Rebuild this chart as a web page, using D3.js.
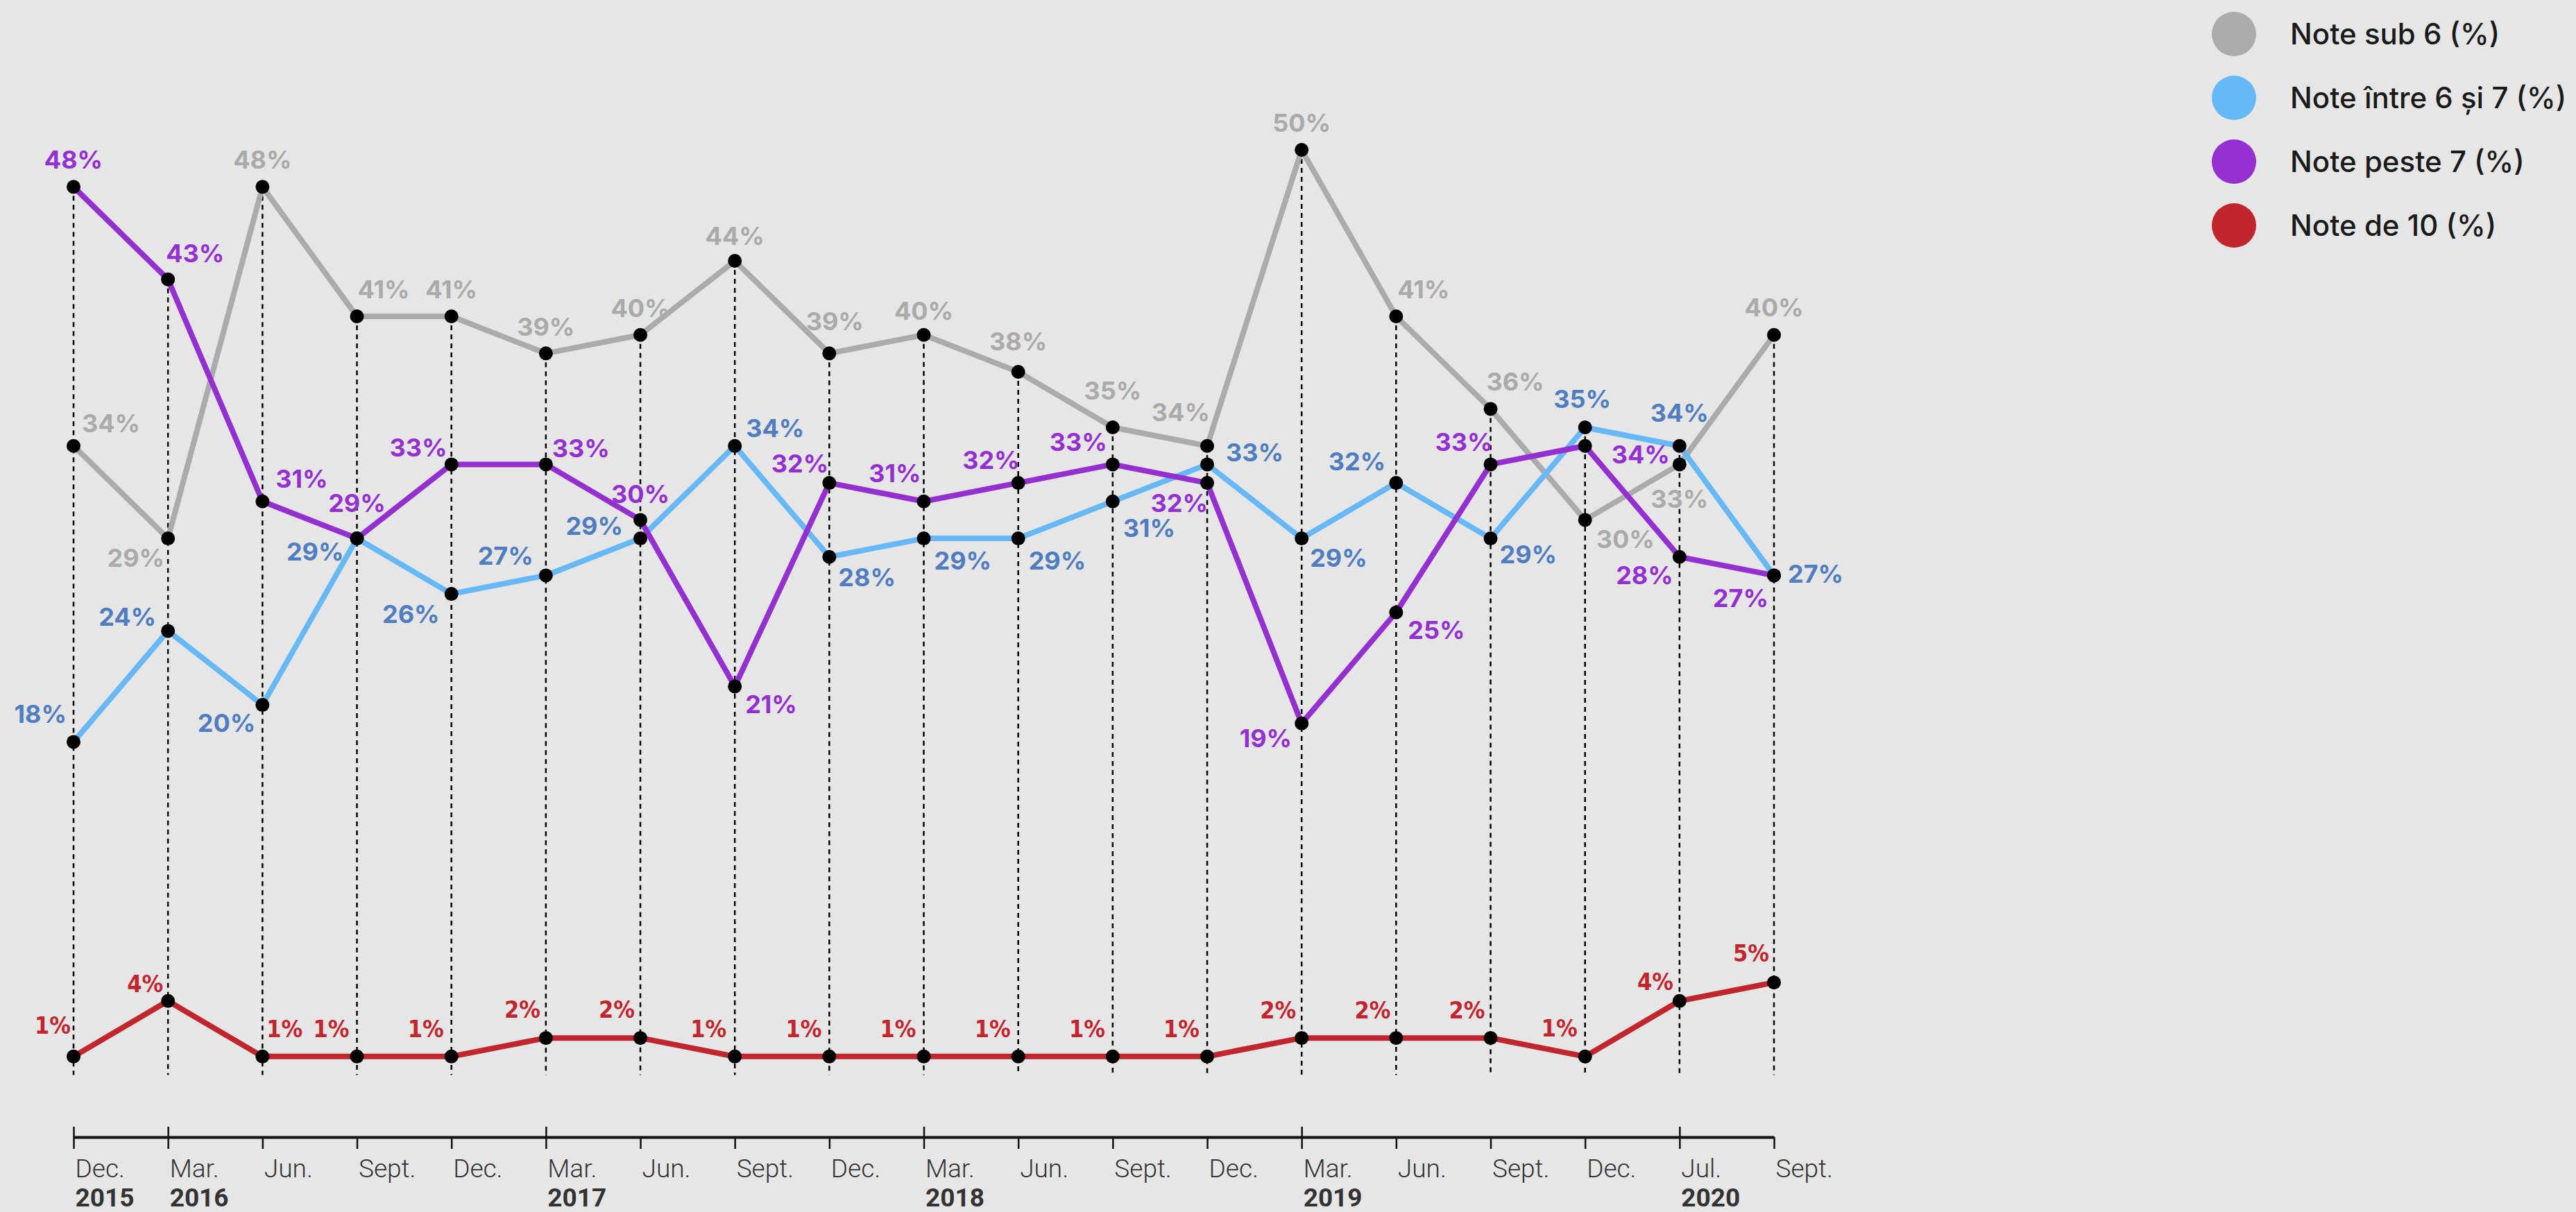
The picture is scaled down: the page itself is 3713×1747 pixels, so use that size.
<!DOCTYPE html>
<html>
<head>
<meta charset="utf-8">
<script src="https://cdn.jsdelivr.net/npm/d3@7"></script>
<style>
  body { margin: 0; background: #e6e6e6; }
  svg { display: block; }
</style>
</head>
<body>
<div id="chart"></div>
<script>
// --- data ---
const months = ["Dec.","Mar.","Jun.","Sept.","Dec.","Mar.","Jun.","Sept.","Dec.","Mar.","Jun.","Sept.","Dec.","Mar.","Jun.","Sept.","Dec.","Jul.","Sept."];
const years  = ["2015","2016","","","","2017","","","","2018","","","","2019","","","","2020",""];

const sub6    = [34, 29, 48, 41, 41, 39, 40, 44, 39, 40, 38, 35, 34, 50, 41, 36, 30, 33, 40];
const intre67 = [18, 24, 20, 29, 26, 27, 29, 34, 28, 29, 29, 31, 33, 29, 32, 29, 35, 34, 27];
const peste7  = [48, 43, 31, 29, 33, 33, 30, 21, 32, 31, 32, 33, 32, 19, 25, 33, 34, 28, 27];
const note10  = [1, 4, 1, 1, 1, 2, 2, 1, 1, 1, 1, 1, 1, 2, 2, 2, 1, 4, 5];

const seriesNames = ["Note sub 6 (%)", "Note între 6 și 7 (%)", "Note peste 7 (%)", "Note de 10 (%)"];

// label placement per point: [dx, dy, anchor]  (s=start, m=middle, e=end)
const sub6Lab = [[12,-20,"s"],[-5,41,"e"],[0,-26,"m"],[1,-26,"s"],[0,-26,"m"],[0,-25,"m"],[0,-26,"m"],[0,-23,"m"],[8,-33,"m"],[0,-22,"m"],[0,-31,"m"],[0,-40,"m"],[4,-36,"e"],[0,-26,"m"],[2,-26,"s"],[-6,-26,"s"],[16,41,"s"],[0,63,"m"],[0,-27,"m"]];
const intreLab = [[-10,-27,"e"],[-17,-7,"e"],[-10,39,"e"],[-19,32,"e"],[-17,42,"e"],[-18,-15,"e"],[-25,-5,"e"],[16,-13,"s"],[13,42,"s"],[15,45,"s"],[15,45,"s"],[15,51,"s"],[27,-4,"s"],[12,41,"s"],[-15,-18,"e"],[13,36,"s"],[-4,-28,"m"],[0,-35,"m"],[20,11,"s"]];
const pesteLab = [[0,-26,"m"],[-3,-25,"s"],[19,-20,"s"],[0,-38,"m"],[-6,-11,"e"],[9,-10,"s"],[0,-24,"m"],[15,39,"s"],[-1,-15,"e"],[-4,-28,"e"],[2,-20,"e"],[-8,-19,"e"],[1,42,"e"],[-14,34,"e"],[17,38,"s"],[3,-19,"e"],[38,25,"s"],[-9,39,"e"],[-8,46,"e"]];
const note10Lab = [[-4,-33,"e"],[-7,-13,"e"],[6,-28,"s"],[-11,-28,"e"],[-11,-28,"e"],[-8,-29,"e"],[-8,-29,"e"],[-12,-28,"e"],[-11,-28,"e"],[-11,-28,"e"],[-11,-28,"e"],[-11,-28,"e"],[-11,-28,"e"],[-8,-28,"e"],[-8,-28,"e"],[-8,-28,"e"],[-11,-29,"e"],[-9,-16,"e"],[-7,-30,"e"]];

const series = [
  {name: seriesNames[0], values: sub6,    lab: sub6Lab,   line: "#ababab", text: "#aaaaaa", narrow: false},
  {name: seriesNames[1], values: intre67, lab: intreLab,  line: "#67b8f6", text: "#4f7dbf", narrow: false},
  {name: seriesNames[2], values: peste7,  lab: pesteLab,  line: "#9430d0", text: "#9430d0", narrow: false},
  {name: seriesNames[3], values: note10,  lab: note10Lab, line: "#c1262f", text: "#c1262f", narrow: true}
];

const width = 3713, height = 1747;
const svg = d3.select("#chart").append("svg")
    .attr("width", width)
    .attr("height", height)
    .style("background", "#e6e6e6");

const x = d3.scalePoint()
    .domain(d3.range(months.length))
    .range([106, 2557]);

const y = d3.scaleLinear()
    .domain([0, 50])
    .range([1549.5, 216]);

const axisY = 1639;

// dashed drop lines from highest point down to zero
svg.append("g")
  .selectAll("line")
  .data(d3.range(months.length))
  .join("line")
    .attr("x1", i => x(i))
    .attr("x2", i => x(i))
    .attr("y1", i => y(d3.max(series, s => s.values[i])))
    .attr("y2", y(0))
    .attr("stroke", "#000")
    .attr("stroke-width", 2.5)
    .attr("stroke-dasharray", "7,6");

// x axis
const xAxis = d3.axisBottom(x)
    .tickSize(17)
    .tickSizeOuter(0)
    .tickFormat(i => months[i]);

const axisG = svg.append("g")
    .attr("transform", `translate(0,${axisY})`)
    .call(xAxis);

axisG.select(".domain").attr("stroke", "#111").attr("stroke-width", 4);
axisG.selectAll(".tick line").attr("stroke", "#111").attr("stroke-width", 2.5);
axisG.selectAll(".tick")
  .filter(i => years[i] !== "")
  .append("line")
    .attr("y1", -15).attr("y2", 0)
    .attr("stroke", "#111").attr("stroke-width", 2.5);

axisG.selectAll(".tick text")
    .attr("y", 58)
    .attr("dy", null)
    .attr("x", 2)
    .attr("text-anchor", "start")
    .attr("fill", "#333")
    .style("font-family", "Roboto")
    .style("font-weight", 300)
    .style("font-size", "37px");

axisG.selectAll(".tick")
  .append("text")
    .attr("x", 2)
    .attr("y", 100)
    .attr("text-anchor", "start")
    .attr("fill", "#333")
    .style("font-family", "Roboto")
    .style("font-weight", 700)
    .style("font-size", "37px")
    .text(i => years[i]);

// lines
const line = d3.line()
    .x((d, i) => x(i))
    .y(d => y(d));

svg.append("g")
  .selectAll("path")
  .data(series)
  .join("path")
    .attr("d", s => line(s.values))
    .attr("fill", "none")
    .attr("stroke", s => s.line)
    .attr("stroke-width", 8)
    .attr("stroke-linejoin", "round");

// dots
svg.append("g")
  .selectAll("g")
  .data(series)
  .join("g")
  .selectAll("circle")
  .data(s => s.values)
  .join("circle")
    .attr("cx", (d, i) => x(i))
    .attr("cy", d => y(d))
    .attr("r", 10)
    .attr("fill", "#000");

// value labels
svg.append("g")
  .selectAll("g")
  .data(series)
  .join("g")
    .attr("fill", s => s.text)
    .style("font-family", s => s.narrow ? "'DejaVu Sans Condensed', 'DejaVu Sans', sans-serif" : "Inter, sans-serif")
    .style("font-stretch", s => s.narrow ? "condensed" : "normal")
    .style("font-weight", 700)
    .style("font-size", s => s.narrow ? "34px" : "36px")
  .selectAll("text")
  .data(s => s.values.map((v, i) => ({v, i, lab: s.lab[i]})))
  .join("text")
    .attr("x", d => x(d.i) + d.lab[0])
    .attr("y", d => y(d.v) + d.lab[1])
    .attr("text-anchor", d => ({s: "start", m: "middle", e: "end"})[d.lab[2]])
    .text(d => d.v + "%");

// legend
const legend = svg.append("g")
  .selectAll("g")
  .data(series)
  .join("g")
    .attr("transform", (s, i) => `translate(3220,${49 + i * 92})`);

legend.append("circle")
    .attr("r", 32)
    .attr("fill", s => s.line);

legend.append("text")
    .attr("x", 81)
    .attr("y", 15)
    .attr("fill", "#1a1a1a")
    .style("font-family", "Inter")
    .style("font-weight", 500)
    .style("font-size", "42px")
    .text(s => s.name);
</script>
</body>
</html>
